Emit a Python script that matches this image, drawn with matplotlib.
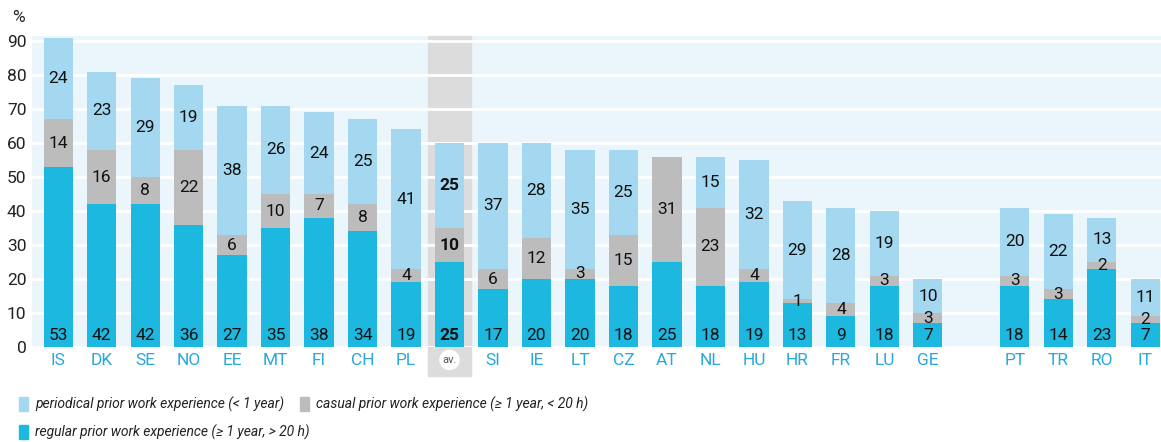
import matplotlib
matplotlib.use("Agg")
import matplotlib.pyplot as plt
import numpy as np
from matplotlib.patches import Rectangle, Ellipse

plt.rcParams["font.family"] = ["Roboto", "DejaVu Sans"]

countries = ["IS", "DK", "SE", "NO", "EE", "MT", "FI", "CH", "PL", "av.",
             "SI", "IE", "LT", "CZ", "AT", "NL", "HU", "HR", "FR", "LU", "GE",
             "", "PT", "TR", "RO", "IT"]
regular = [53, 42, 42, 36, 27, 35, 38, 34, 19, 25,
           17, 20, 20, 18, 25, 18, 19, 13, 9, 18, 7,
           None, 18, 14, 23, 7]
casual = [14, 16, 8, 22, 6, 10, 7, 8, 4, 10,
          6, 12, 3, 15, 31, 23, 4, 1, 4, 3, 3,
          None, 3, 3, 2, 2]
periodical = [24, 23, 29, 19, 38, 26, 24, 25, 41, 25,
              37, 28, 35, 25, 0, 15, 32, 29, 28, 19, 10,
              None, 20, 22, 13, 11]

legend_labels = ["periodical prior work experience (< 1 year)",
                 "casual prior work experience (\u2265 1 year, < 20 h)",
                 "regular prior work experience (\u2265 1 year, > 20 h)"]

C_REG = "#1cb8e0"
C_CAS = "#bcbcbc"
C_PER = "#a3d8f0"
C_BG = "#eaf5fc"
C_TICK = "#2aa7dc"

W, H = 1161, 442
fig = plt.figure(figsize=(W / 100, H / 100), dpi=100)
ax = fig.add_axes([32 / W, 95 / H, 1 - 32 / W, 311 / H])
ax.set_facecolor(C_BG)

idx = [i for i, c in enumerate(countries) if c]
x = np.array(idx)
reg = np.array([regular[i] for i in idx], dtype=float)
cas = np.array([casual[i] for i in idx], dtype=float)
per = np.array([periodical[i] for i in idx], dtype=float)
w = 0.67

av = countries.index("av.")
ax.add_patch(Rectangle((av - 0.5, -8.5), 1.0, 100, color="#dcdcdc",
                       zorder=0.5, clip_on=False))

ax.bar(x, reg, w, color=C_REG, zorder=2)
ax.bar(x, cas, w, bottom=reg, color=C_CAS, zorder=2)
ax.bar(x, per, w, bottom=reg + cas, color=C_PER, zorder=2)

for xi, r, c, p, name in zip(x, reg, cas, per, [countries[i] for i in idx]):
    fw = "bold" if name == "av." else "normal"
    kw = dict(ha="center", va="center", fontsize=12.5, color="#111111",
              fontweight=fw, zorder=3)
    ax.text(xi, 3.4, f"{int(r)}", **kw)
    if c > 0:
        ax.text(xi, r + c / 2, f"{int(c)}", **kw)
    if p > 0:
        ax.text(xi, r + c + p / 2, f"{int(p)}", **kw)

ax.set_xlim(-0.6, 25.36)
ax.set_ylim(0, 91.5)
ax.set_yticks(np.arange(0, 91, 10))
ax.yaxis.grid(True, color="white", linewidth=2)
ax.set_axisbelow(True)
for s in ax.spines.values():
    s.set_visible(False)
ax.tick_params(axis="both", length=0)
ax.tick_params(axis="y", labelsize=12.5, labelcolor="#222222", pad=4)

ax.set_xticks(x)
ax.set_xticklabels([c if c != "av." else "" for c in (countries[i] for i in idx)],
                   fontsize=12.5, color=C_TICK)
ax.tick_params(axis="x", pad=4)

# white badge for the average column
ax.add_patch(Ellipse((av, -3.8), 0.44, 5.6, color="white",
                     clip_on=False, zorder=3))
ax.text(av, -3.8, "av.", ha="center", va="center", fontsize=8,
        color="#555555", zorder=4, clip_on=False)

fig.text(12 / W, 1 - 18 / H, "%", fontsize=12.5, color="#222222",
         ha="left", va="center")

# legend drawn by hand: (patch x, row y) in pixels
leg_pos = [(19, 404), (300, 404), (19, 432)]
leg_cols = [C_PER, C_CAS, C_REG]
for (px, py), col, lab in zip(leg_pos, leg_cols, legend_labels):
    fig.add_artist(Rectangle((px / W, 1 - (py + 7) / H), 9 / W, 14 / H,
                             color=col, transform=fig.transFigure))
    fig.text((px + 16) / W, 1 - py / H, lab, fontsize=10, style="italic",
             color="#222222", ha="left", va="center")

fig.savefig("out.png", dpi=100)
